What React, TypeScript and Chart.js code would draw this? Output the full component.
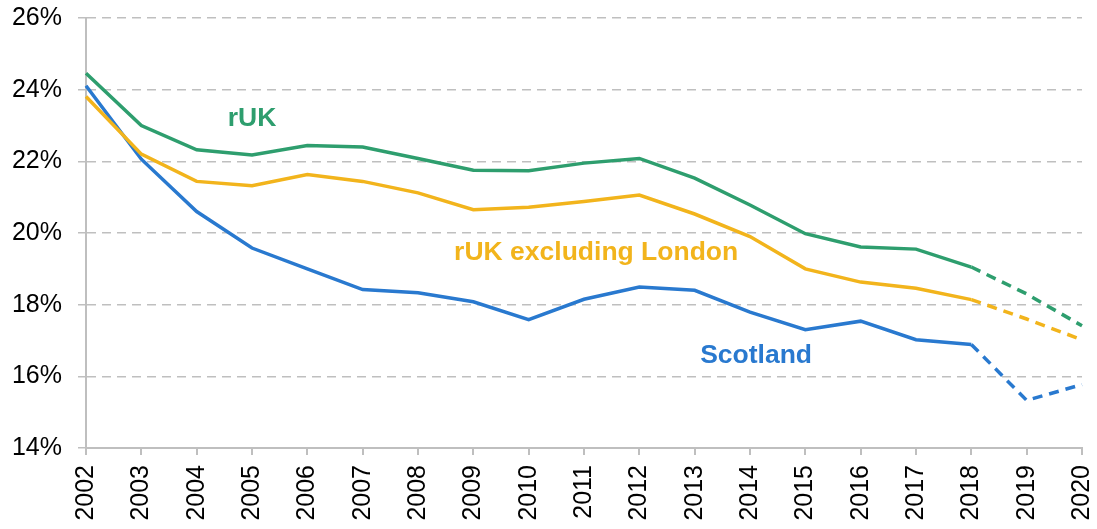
import React, { useEffect, useRef } from "react";
import { Chart, registerables } from "chart.js";

Chart.register(...registerables);

const years = ["2002","2003","2004","2005","2006","2007","2008","2009","2010","2011","2012","2013","2014","2015","2016","2017","2018","2019","2020"];
const rUK = [24.46, 23.0, 22.32, 22.18, 22.44, 22.4, 22.08, 21.75, 21.74, 21.95, 22.08, 21.53, 20.78, 19.98, 19.61, 19.55, 19.05, 18.3, 17.41];
const rUKexLondon = [23.81, 22.2, 21.44, 21.32, 21.63, 21.44, 21.12, 20.65, 20.72, 20.88, 21.06, 20.53, 19.9, 19.0, 18.63, 18.46, 18.14, 17.6, 17.02];
const scotland = [24.11, 22.06, 20.6, 19.58, 19.0, 18.42, 18.33, 18.08, 17.58, 18.15, 18.49, 18.4, 17.79, 17.3, 17.54, 17.02, 16.89, 15.33, 15.77];

const seriesNames = ["rUK", "rUK excluding London", "Scotland"];
const seriesColors = ["#2E9E6E", "#F2B41C", "#2979CF"];
// label anchors: year position (fractional) and value at text baseline
const labelYears = [2005.0, 2011.22, 2014.11];
const labelValues = [22.99, 19.25, 16.38];

const forecastStart = 16; // index of 2018: segments after it are dashed

const FONT = "'Liberation Sans', Arial, sans-serif";

export default function App() {
  const ref = useRef<HTMLCanvasElement | null>(null);

  useEffect(() => {
    document.body.style.margin = "0";
    const canvas = ref.current;
    if (!canvas) return;

    const labelPlugin = {
      id: "seriesLabels",
      afterDatasetsDraw(chart: any) {
        const { ctx, scales } = chart;
        ctx.save();
        ctx.font = `bold 26.5px ${FONT}`;
        ctx.textAlign = "center";
        ctx.textBaseline = "alphabetic";
        seriesNames.forEach((name, i) => {
          const x = scales.x.getPixelForValue(labelYears[i] - Number(years[0]));
          const y = scales.y.getPixelForValue(labelValues[i]);
          ctx.fillStyle = seriesColors[i];
          ctx.fillText(name, x, y);
        });
        ctx.restore();
      },
    };

    const mk = (label: string, data: number[], color: string) => ({
      label,
      data,
      borderColor: color,
      backgroundColor: color,
      borderWidth: 3.5,
      pointRadius: 0,
      pointHoverRadius: 0,
      tension: 0,
      fill: false,
      borderCapStyle: "butt" as const,
      segment: {
        borderDash: (c: any) => (c.p0DataIndex >= forecastStart ? [10, 7] : undefined),
      },
    });

    const chart = new Chart(canvas, {
      type: "line",
      data: {
        labels: years,
        datasets: [
          mk(seriesNames[0], rUK, seriesColors[0]),
          mk(seriesNames[1], rUKexLondon, seriesColors[1]),
          mk(seriesNames[2], scotland, seriesColors[2]),
        ],
      },
      options: {
        responsive: false,
        animation: false,
        devicePixelRatio: 1,
        layout: { padding: { top: 18, right: 15, left: 0, bottom: 0 } },
        plugins: {
          legend: { display: false },
          tooltip: { enabled: false },
          title: { display: false },
        },
        scales: {
          x: {
            type: "category",
            offset: false,
            grid: {
              drawOnChartArea: false,
              drawTicks: true,
              tickLength: 7,
              color: "#BFBFBF",
              lineWidth: 2,
            },
            border: { display: true, color: "#BFBFBF", width: 2 },
            ticks: {
              color: "#000",
              font: { family: FONT, size: 25 },
              minRotation: 90,
              maxRotation: 90,
              padding: 10,
              autoSkip: false,
            },
            afterFit: (s: any) => {
              s.height = 81;
              s.paddingLeft = 0;
              s.paddingRight = 0;
            },
          },
          y: {
            min: 14,
            max: 26,
            grid: {
              color: "#BFBFBF",
              lineWidth: 1.5,
              drawTicks: true,
              tickLength: 8,
              tickBorderDash: [9, 6],
            },
            border: { display: true, color: "#BFBFBF", width: 2, dash: [9, 6] },
            ticks: {
              stepSize: 2,
              color: "#000",
              font: { family: FONT, size: 25 },
              padding: 16,
              callback: (v: any) => `${v}%`,
            },
            afterFit: (s: any) => {
              s.width = 86;
              s.paddingTop = 0;
              s.paddingBottom = 0;
            },
          },
        },
      },
      plugins: [labelPlugin],
    });

    return () => chart.destroy();
  }, []);

  return (
    <div style={{ width: 1097, height: 529, background: "#fff" }}>
      <canvas ref={ref} width={1097} height={529} />
    </div>
  );
}
